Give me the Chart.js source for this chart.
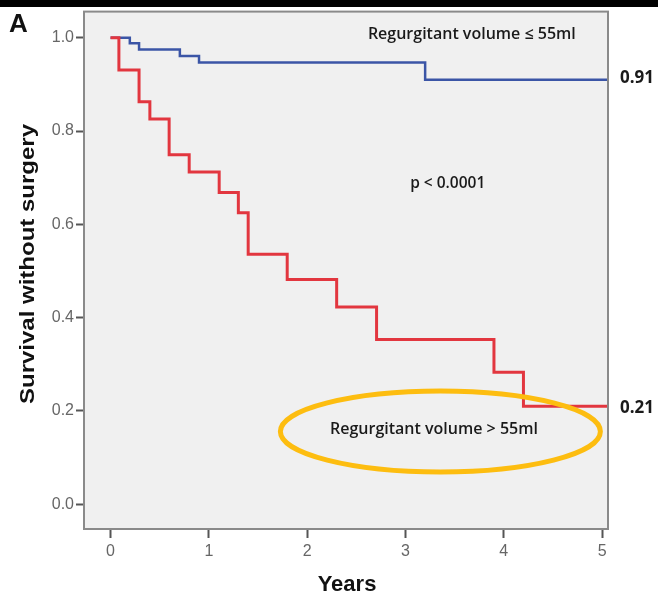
<!DOCTYPE html>
<html>
<head>
<meta charset="utf-8">
<title>Survival without surgery</title>
<script src="https://cdn.jsdelivr.net/npm/chart.js@4.4.1/dist/chart.umd.min.js"></script>
<style>
  html, body { margin: 0; padding: 0; background: #fff; }
  #wrap { width: 658px; height: 597px; position: relative; }
</style>
</head>
<body>
<div id="wrap"><canvas id="km-chart"></canvas></div>
<script>
// Kaplan-Meier steps: event times (years) and survival after each event
const lowTimes = [0, 0.196, 0.29, 0.705, 0.90, 3.20, 5.06];
const lowSurvival = [1, 0.988, 0.975, 0.961, 0.947, 0.91, 0.91];

const highTimes = [0, 0.085, 0.29, 0.40, 0.596, 0.80, 1.105, 1.30, 1.40, 1.797, 2.30, 2.706, 3.90, 4.20, 5.06];
const highSurvival = [1, 0.931, 0.863, 0.826, 0.749, 0.712, 0.668, 0.625, 0.536, 0.482, 0.423, 0.353, 0.283, 0.21, 0.21];

const xTicks = [0, 1, 2, 3, 4, 5];
const yTicks = [0, 0.2, 0.4, 0.6, 0.8, 1.0];

const lowLabel = "Regurgitant volume \u2264 55ml";
const highLabel = "Regurgitant volume > 55ml";
const pValueText = "p < 0.0001";

function toPoints(times, values) {
    return times.map((t, i) => ({ x: t, y: values[i] }));
}

// Grey panel and frame behind the curves, text and marker ellipse on top
const decorPlugin = {
    id: "decor",
    beforeDraw(chart) {
        const { ctx, chartArea: a } = chart;
        ctx.save();
        ctx.fillStyle = "#000";
        ctx.fillRect(0, 0, chart.width, 7);
        ctx.fillStyle = "#f0f0f0";
        ctx.fillRect(a.left, a.top, a.right - a.left, a.bottom - a.top);
        ctx.restore();
    },
    afterDraw(chart) {
        const { ctx, chartArea: a, scales } = chart;
        const xs = scales.x, ys = scales.y;
        ctx.save();

        ctx.strokeStyle = "#8a8a8a";
        ctx.lineWidth = 2;
        ctx.strokeRect(a.left, a.top, a.right - a.left, a.bottom - a.top);

        // panel letter
        ctx.fillStyle = "#111";
        ctx.font = "bold 26px 'Liberation Sans', Arial, sans-serif";
        ctx.textAlign = "left";
        ctx.textBaseline = "alphabetic";
        ctx.fillText("A", 9, 32);

        // axis titles
        ctx.textAlign = "center";
        ctx.textBaseline = "middle";
        ctx.font = "bold 22px 'Liberation Sans', Arial, sans-serif";
        ctx.fillText("Years", 347, 585);
        ctx.save();
        ctx.translate(28, 264);
        ctx.rotate(-Math.PI / 2);
        ctx.scale(1.2, 1);
        ctx.font = "bold 20px 'Liberation Sans', Arial, sans-serif";
        ctx.fillText("Survival without surgery", 0, 0);
        ctx.restore();

        // group labels and p-value
        ctx.fillStyle = "#1a1a1a";
        ctx.font = "600 16px 'Open Sans', sans-serif";
        ctx.fillText(lowLabel, xs.getPixelForValue(3.675), ys.getPixelForValue(1.006));
        ctx.fillText(highLabel, xs.getPixelForValue(3.29), ys.getPixelForValue(0.160));
        ctx.font = "600 15.5px 'Open Sans', sans-serif";
        ctx.fillText(pValueText, xs.getPixelForValue(3.43), ys.getPixelForValue(0.688));

        // final survival values at the right end of each curve
        ctx.font = "bold 17px 'Open Sans', sans-serif";
        ctx.textAlign = "left";
        const lowEnd = lowSurvival[lowSurvival.length - 1];
        const highEnd = highSurvival[highSurvival.length - 1];
        ctx.fillText(lowEnd.toFixed(2), a.right + 12, ys.getPixelForValue(lowEnd) - 2);
        ctx.fillText(highEnd.toFixed(2), a.right + 12, ys.getPixelForValue(highEnd) + 2);

        // highlight ellipse around the high-volume label
        ctx.strokeStyle = "#fdbd10";
        ctx.lineWidth = 5;
        ctx.beginPath();
        ctx.ellipse(xs.getPixelForValue(3.355), ys.getPixelForValue(0.156), 160, 40.5, 0, 0, Math.PI * 2);
        ctx.stroke();

        ctx.restore();
    }
};

const kmCtx = document.getElementById("km-chart").getContext("2d");

let kmChart = new Chart(kmCtx, {
    type: "scatter",
    data: {
        datasets: [{
            label: highLabel,
            data: toPoints(highTimes, highSurvival),
            showLine: true,
            stepped: true,
            borderColor: "#e2363f",
            borderWidth: 3,
            pointRadius: 0,
            fill: false
        }, {
            label: lowLabel,
            data: toPoints(lowTimes, lowSurvival),
            showLine: true,
            stepped: true,
            borderColor: "#3b55a6",
            borderWidth: 2.5,
            pointRadius: 0,
            fill: false
        }]
    },
    options: {
        responsive: true,
        maintainAspectRatio: false,
        animation: false,
        layout: { padding: { top: 10, right: 50, left: 0, bottom: 0 } },
        plugins: {
            legend: { display: false },
            tooltip: { enabled: false }
        },
        scales: {
            x: {
                type: "linear",
                min: -0.27,
                max: 5.06,
                afterBuildTicks: (s) => { s.ticks = xTicks.map(v => ({ value: v })); },
                afterFit: (s) => { s.height = 68; },
                grid: { drawOnChartArea: false, tickLength: 9, tickColor: "#555", tickWidth: 2 },
                border: { display: false },
                ticks: {
                    color: "#666",
                    padding: 4,
                    font: { family: "'Liberation Sans', Arial, sans-serif", size: 16 },
                    callback: (v) => String(v)
                }
            },
            y: {
                type: "linear",
                min: -0.053,
                max: 1.056,
                afterBuildTicks: (s) => { s.ticks = yTicks.map(v => ({ value: v })); },
                afterFit: (s) => { s.width = 84; },
                grid: { drawOnChartArea: false, tickLength: 8, tickColor: "#555", tickWidth: 2 },
                border: { display: false },
                ticks: {
                    color: "#666",
                    padding: 2,
                    font: { family: "'Liberation Sans', Arial, sans-serif", size: 16 },
                    callback: (v) => Number(v).toFixed(1)
                }
            }
        }
    },
    plugins: [decorPlugin]
});
</script>
</body>
</html>
